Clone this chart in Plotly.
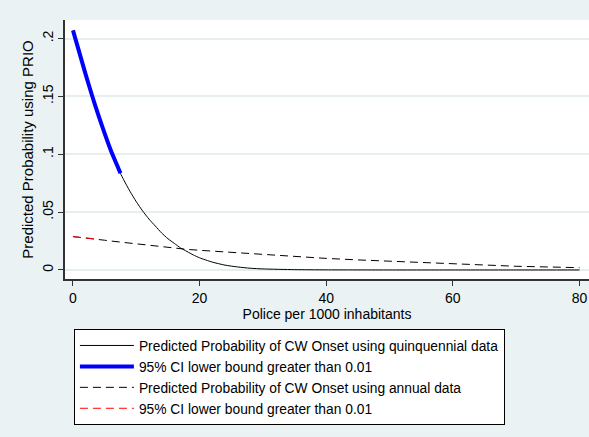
import plotly.graph_objects as go

# Police per 1000 inhabitants
police = [0, 1, 2, 3, 4, 5, 6, 7, 7.5, 8, 9, 10, 11, 12, 13, 14, 15, 16, 17,
          18, 19, 20, 22, 24, 26, 28, 30, 35, 40, 50, 60, 70, 80]

# Predicted probability of civil-war onset, quinquennial data
p_quinq = [0.207, 0.188, 0.169, 0.151, 0.134, 0.118, 0.103, 0.090, 0.0835, 0.078,
           0.068, 0.059, 0.051, 0.044, 0.038, 0.032, 0.027, 0.023, 0.019,
           0.016, 0.013, 0.0105, 0.0068, 0.0042, 0.0026, 0.0015, 0.0009,
           0.0003, 0.0001, 0.0, 0.0, 0.0, 0.0]
# Range where the 95% CI lower bound exceeds 0.01 (quinquennial)
ci_quinq_end = 7.5

# Predicted probability of civil-war onset, annual data
police_annual = [0, 1, 2, 3, 3.6, 5, 6, 8, 10, 12, 14, 16, 18, 20, 25, 30,
                 35, 40, 45, 50, 55, 60, 65, 70, 75, 80]
p_annual = [0.0288, 0.0283, 0.0278, 0.0272, 0.0268, 0.0257, 0.0250, 0.0238,
            0.0224, 0.0211, 0.0199, 0.0188, 0.0178, 0.0170, 0.0151, 0.0133,
            0.0115, 0.0100, 0.0087, 0.0076, 0.0063, 0.0050, 0.0040, 0.0032,
            0.0026, 0.0020]
# Range where the 95% CI lower bound exceeds 0.01 (annual)
ci_annual_end = 3.6

y_ticks = [0, 0.05, 0.1, 0.15, 0.2]
y_tick_text = ["0", ".05", ".1", ".15", ".2"]
x_ticks = [0, 20, 40, 60, 80]

ci_q = [(x, y) for x, y in zip(police, p_quinq) if x <= ci_quinq_end]
ci_a = [(x, y) for x, y in zip(police_annual, p_annual) if x <= ci_annual_end]

FONT = "Liberation Sans, Arial, sans-serif"
BG = "#eaf2f3"

fig = go.Figure()
fig.add_trace(go.Scatter(
    x=police, y=p_quinq, mode="lines",
    line=dict(color="black", width=1, shape="spline", smoothing=0.6),
    name="Predicted Probability of CW Onset using quinquennial data"))
fig.add_trace(go.Scatter(
    x=[c[0] for c in ci_q], y=[c[1] for c in ci_q], mode="lines",
    line=dict(color="#0000ff", width=4, shape="spline", smoothing=0.6),
    name="95% CI lower bound greater than 0.01"))
fig.add_trace(go.Scatter(
    x=police_annual, y=p_annual, mode="lines",
    line=dict(color="black", width=1, dash="8px,5px"),
    name="Predicted Probability of CW Onset using annual data"))
fig.add_trace(go.Scatter(
    x=[c[0] for c in ci_a], y=[c[1] for c in ci_a], mode="lines",
    line=dict(color="#ff0000", width=1, dash="8px,5px"),
    name="95% CI lower bound greater than 0.01 "))

fig.update_layout(
    width=589, height=437,
    margin=dict(l=65, r=0, t=20, b=158),
    paper_bgcolor=BG, plot_bgcolor="white",
    font=dict(family=FONT, color="black", size=14),
    showlegend=True,
    legend=dict(
        x=0.017, y=-0.193, xanchor="left", yanchor="top",
        bgcolor="white", bordercolor="black", borderwidth=1,
        font=dict(size=13.8), itemwidth=54,
    ),
    xaxis=dict(
        range=[-1.26, 81.5], tickvals=x_ticks, ticks="outside", ticklen=5,
        tickcolor="#333", showline=True, linecolor="#333", linewidth=1.5,
        showgrid=False, zeroline=False, tickfont=dict(size=14),
        title=dict(text="Police per 1000 inhabitants", font=dict(size=14),
                   standoff=2),
    ),
    yaxis=dict(
        range=[-0.0078, 0.216], tickvals=y_ticks, ticktext=y_tick_text,
        tickangle=-90, ticks="outside", ticklen=5, tickcolor="#333",
        showline=True, linecolor="#333", linewidth=1.5,
        showgrid=True, gridcolor="#e6eef0", gridwidth=1.5, zeroline=False,
        tickfont=dict(size=14),
        title=dict(text="Predicted Probability using PRIO", font=dict(size=15),
                   standoff=2),
    ),
)

fig.write_html("out.html")
